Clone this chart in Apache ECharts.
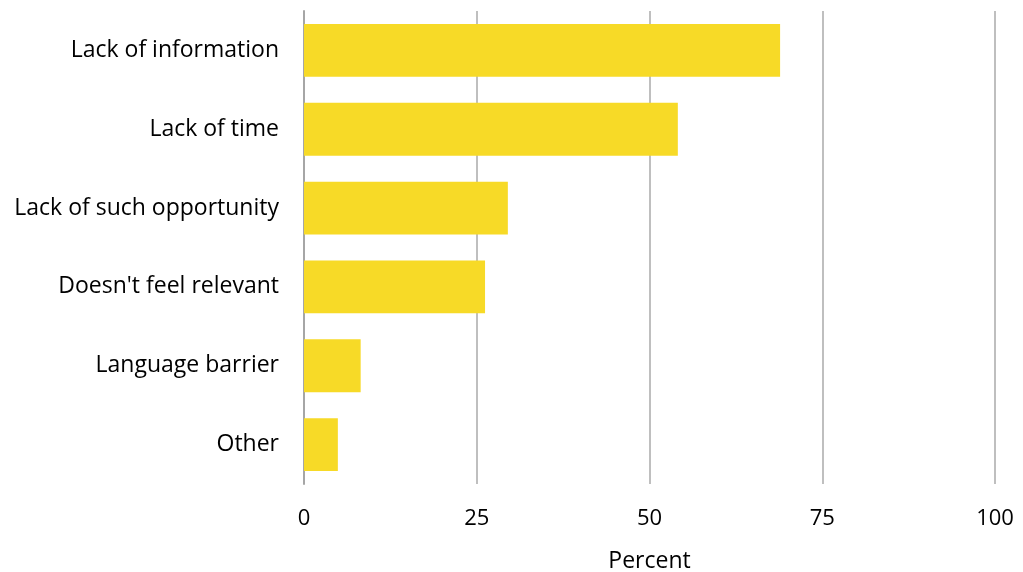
<!DOCTYPE html>
<html>
<head>
<meta charset="utf-8">
<script src="https://cdn.jsdelivr.net/npm/echarts@6/dist/echarts.min.js"></script>
<style>
  html, body { margin: 0; padding: 0; background: #fff; }
  #chart { width: 1023px; height: 572px; }
</style>
</head>
<body>
<div id="chart"></div>
<script>
// Reasons, listed top to bottom
const categories = [
  "Lack of information",
  "Lack of time",
  "Lack of such opportunity",
  "Doesn't feel relevant",
  "Language barrier",
  "Other"
];
// Share of respondents (percent)
const percents = [68.9, 54.1, 29.5, 26.2, 8.2, 4.9];
const xTicks = [0, 25, 50, 75, 100];

const FONT = "Open Sans";
const chart = echarts.init(document.getElementById("chart"), null, { renderer: "canvas" });

chart.setOption({
  animation: false,
  textStyle: { fontFamily: FONT },
  grid: { left: 304, right: 28, top: 11, bottom: 88, containLabel: false, outerBoundsMode: "none" },
  xAxis: {
    type: "value",
    min: xTicks[0],
    max: xTicks[xTicks.length - 1],
    interval: 25,
    name: "Percent",
    nameLocation: "middle",
    nameGap: 66,
    nameTextStyle: { fontSize: 23, color: "#000", fontFamily: FONT },
    axisLine: { show: false },
    axisTick: { show: false },
    axisLabel: { margin: 24, fontSize: 22, color: "#000", fontFamily: FONT },
    splitLine: { show: true, lineStyle: { color: "#bfbfbf", width: 2 } }
  },
  yAxis: {
    type: "category",
    data: categories,
    inverse: true,
    axisLine: { show: true, lineStyle: { color: "#a6a6a6", width: 2 } },
    axisTick: { show: false },
    axisLabel: { margin: 25, fontSize: 23, color: "#000", fontFamily: FONT }
  },
  series: [{
    type: "bar",
    data: percents,
    barWidth: "67%",
    itemStyle: { color: "#F7DA27" }
  }]
});
</script>
</body>
</html>
